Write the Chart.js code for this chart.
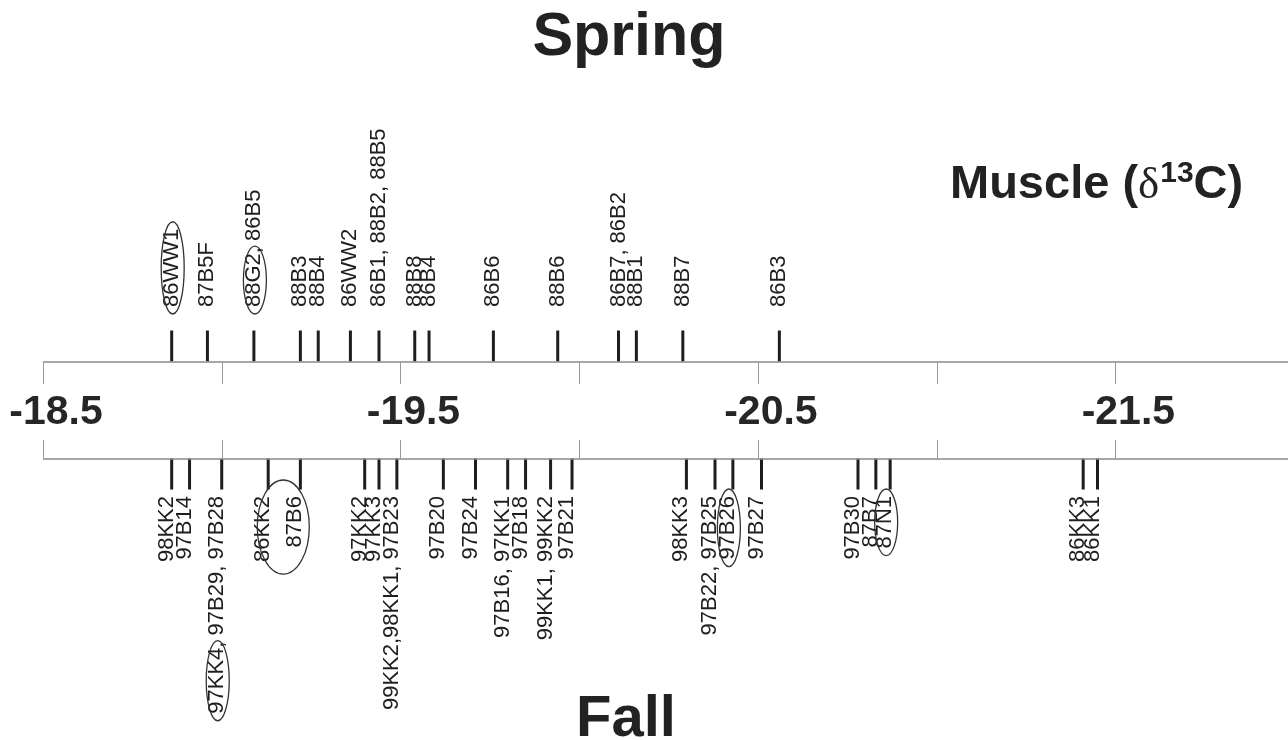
<!DOCTYPE html>
<html>
<head>
<meta charset="utf-8">
<title>Muscle d13C - Spring / Fall</title>
<script src="https://cdn.jsdelivr.net/npm/chart.js@4.4.1/dist/chart.umd.min.js"></script>
<style>
  html, body { margin: 0; padding: 0; background: #fff; overflow: hidden; }
  #wrap { width: 1288px; height: 740px; }
</style>
</head>
<body>
<div id="wrap"><canvas id="stripChart" width="1288" height="740"></canvas></div>
<script>
// Muscle d13C values
const springValues = [-18.86, -18.96, -19.09, -19.22, -19.27, -19.36, -19.44, -19.54, -19.58,
    -19.76, -19.94, -20.11, -20.16, -20.29, -20.56];
const springLabels = ["86WW1", "87B5F", "88G2, 86B5", "88B3", "88B4", "86WW2", "86B1, 88B2, 88B5",
    "88B8", "86B4", "86B6", "88B6", "86B7, 86B2", "88B1", "88B7", "86B3"];

const fallValues = [-18.86, -18.91, -19.00, -19.13, -19.22, -19.40, -19.44, -19.49, -19.62,
    -19.71, -19.80, -19.85, -19.92, -19.98, -20.30, -20.38, -20.43, -20.51, -20.78, -20.83,
    -20.87, -21.41, -21.45];
const fallLabels = ["98KK2", "97B14", "97KK4, 97B29, 97B28", "86KK2", "87B6", "97KK2", "97KK3",
    "99KK2,98KK1, 97B23", "97B20", "97B24", "97B16, 97KK1", "97B18", "99KK1, 99KK2", "97B21",
    "98KK3", "97B22, 97B25", "97B26", "97B27", "97B30", "87B7", "87N1", "86KK3", "86KK1"];

// circled sample names
const springCircled = ["86WW1", "88G2"];
const fallCircled = ["97KK4", "97B26", "87N1"];
const fallCircledPair = ["86KK2", "87B6"];

const tickLabelValues = [-18.5, -19.5, -20.5, -21.5];
const tickLabels = ["-18.5", "-19.5", "-20.5", "-21.5"];

// layout (canvas pixels on the reversed y scale)
const rows = { spring: 346, fall: 474, axisTop: 362, axisBottom: 459 };
const FONT = "'Liberation Sans', Arial, sans-serif";
const INK = "#1e1e1e";

function vText(ctx, text, x, y, align) {
    ctx.save();
    ctx.translate(x, y);
    ctx.rotate(-Math.PI / 2);
    ctx.textAlign = align;
    ctx.textBaseline = "middle";
    ctx.fillText(text, 0, 0);
    ctx.restore();
}

function ring(ctx, cx, cy, rx, ry) {
    ctx.beginPath();
    ctx.ellipse(cx, cy, rx, ry, 0, 0, Math.PI * 2);
    ctx.stroke();
}

const decorPlugin = {
    id: "decor",
    afterDatasetsDraw(chart) {
        const ctx = chart.ctx;
        const xs = chart.scales.x;
        const ys = chart.scales.y;
        const yTop = ys.getPixelForValue(rows.axisTop);
        const yBot = ys.getPixelForValue(rows.axisBottom);
        const left = chart.chartArea.left, right = chart.chartArea.right;

        ctx.save();
        // axis band lines
        ctx.strokeStyle = "#8a8a8a";
        ctx.lineWidth = 1.3;
        ctx.beginPath();
        ctx.moveTo(left, yTop); ctx.lineTo(right, yTop);
        ctx.moveTo(left, yBot); ctx.lineTo(right, yBot);
        ctx.stroke();
        let tickVals = xs.ticks.map(t => t.value).filter(v => Math.abs(v * 2 - Math.round(v * 2)) < 1e-6);
        if (!tickVals.length) {
            for (let v = -18.5; v >= xs.min - 1e-9; v -= 0.5) tickVals.push(v);
        }
        ctx.lineWidth = 1;
        ctx.strokeStyle = "#999";
        ctx.beginPath();
        tickVals.forEach(v => {
            const px = Math.round(xs.getPixelForValue(v)) + 0.5;
            ctx.moveTo(px, yTop); ctx.lineTo(px, yTop + 22);
            ctx.moveTo(px, yBot - 19); ctx.lineTo(px, yBot);
        });
        ctx.stroke();

        // tick labels between the two lines
        ctx.fillStyle = "#262626";
        ctx.font = "bold 41px " + FONT;
        ctx.textAlign = "center";
        ctx.textBaseline = "middle";
        tickLabelValues.forEach((v, i) => {
            ctx.fillText(tickLabels[i], xs.getPixelForValue(v) + 13, (yTop + yBot) / 2 + 2);
        });

        // sample labels
        ctx.font = "22px " + FONT;
        ctx.fillStyle = INK;
        const springStart = yTop - 55;
        const fallEnd = yBot + 37;
        springValues.forEach((v, i) => {
            vText(ctx, springLabels[i], xs.getPixelForValue(v), springStart, "left");
        });
        fallValues.forEach((v, i) => {
            vText(ctx, fallLabels[i], xs.getPixelForValue(v) - 5, fallEnd, "right");
        });

        // ellipses round circled names
        ctx.strokeStyle = "#333";
        ctx.lineWidth = 1.3;
        const circle = (values, labels, part, isSpring) => {
            const i = labels.findIndex(l => l.indexOf(part) >= 0);
            if (i < 0) return;
            const lab = labels[i];
            const x = xs.getPixelForValue(values[i]) - (isSpring ? 0 : 5);
            const start = isSpring ? springStart : fallEnd + ctx.measureText(lab).width;
            const pre = ctx.measureText(lab.slice(0, lab.indexOf(part))).width;
            const w = ctx.measureText(part).width;
            ring(ctx, x + 1, start - pre - w / 2, 11.5, w / 2 + 7);
        };
        springCircled.forEach(p => circle(springValues, springLabels, p, true));
        fallCircled.forEach(p => circle(fallValues, fallLabels, p, false));

        const pairIdx = fallCircledPair.map(p => fallLabels.indexOf(p));
        const pxs = pairIdx.map(i => xs.getPixelForValue(fallValues[i]) - 5);
        const maxW = Math.max(...pairIdx.map(i => ctx.measureText(fallLabels[i]).width));
        ring(ctx, (pxs[0] + pxs[1]) / 2 + 4, fallEnd + maxW / 2 - 2, 26, maxW / 2 + 14);

        // titles
        ctx.fillStyle = "#222";
        ctx.textAlign = "center";
        ctx.textBaseline = "alphabetic";
        ctx.font = "bold 61px " + FONT;
        ctx.fillText("Spring", 629, 55);
        ctx.font = "bold 58px " + FONT;
        ctx.fillText("Fall", 626, 736);

        // Muscle (d13C) with superscript
        ctx.textAlign = "left";
        let cx = 950;
        const base = 198;
        ctx.font = "bold 47px " + FONT;
        ctx.fillText("Muscle (", cx, base);
        cx += ctx.measureText("Muscle (").width;
        ctx.font = "45px 'Liberation Serif', serif";
        ctx.fillText("\u03b4", cx, base);
        cx += ctx.measureText("\u03b4").width + 1;
        ctx.font = "bold 30px " + FONT;
        ctx.fillText("13", cx, base - 16);
        cx += ctx.measureText("13").width;
        ctx.font = "bold 47px " + FONT;
        ctx.fillText("C)", cx, base);
        ctx.restore();
    }
};

const markStyle = {
    pointStyle: "line",
    rotation: 90,
    radius: 15.5,
    borderWidth: 3,
    borderColor: INK,
    backgroundColor: INK,
    clip: false
};

const stripChart = new Chart(document.getElementById("stripChart").getContext("2d"), {
    type: "scatter",
    data: {
        datasets: [
            Object.assign({ label: "Spring", data: springValues.map(v => ({ x: v, y: rows.spring })) }, markStyle),
            Object.assign({ label: "Fall", data: fallValues.map(v => ({ x: v, y: rows.fall })) }, markStyle),
        ],
    },
    options: {
        responsive: false,
        animation: false,
        events: [],
        layout: { autoPadding: false, padding: { left: 43, right: 0, top: 0, bottom: 0 } },
        plugins: { legend: { display: false }, tooltip: { enabled: false } },
        scales: {
            x: { type: "linear", min: -21.983, max: -18.5, reverse: true, display: false, ticks: { stepSize: 0.5 } },
            y: { type: "linear", min: 0, max: 740, reverse: true, display: false },
        },
    },
    plugins: [decorPlugin],
});
</script>
</body>
</html>
